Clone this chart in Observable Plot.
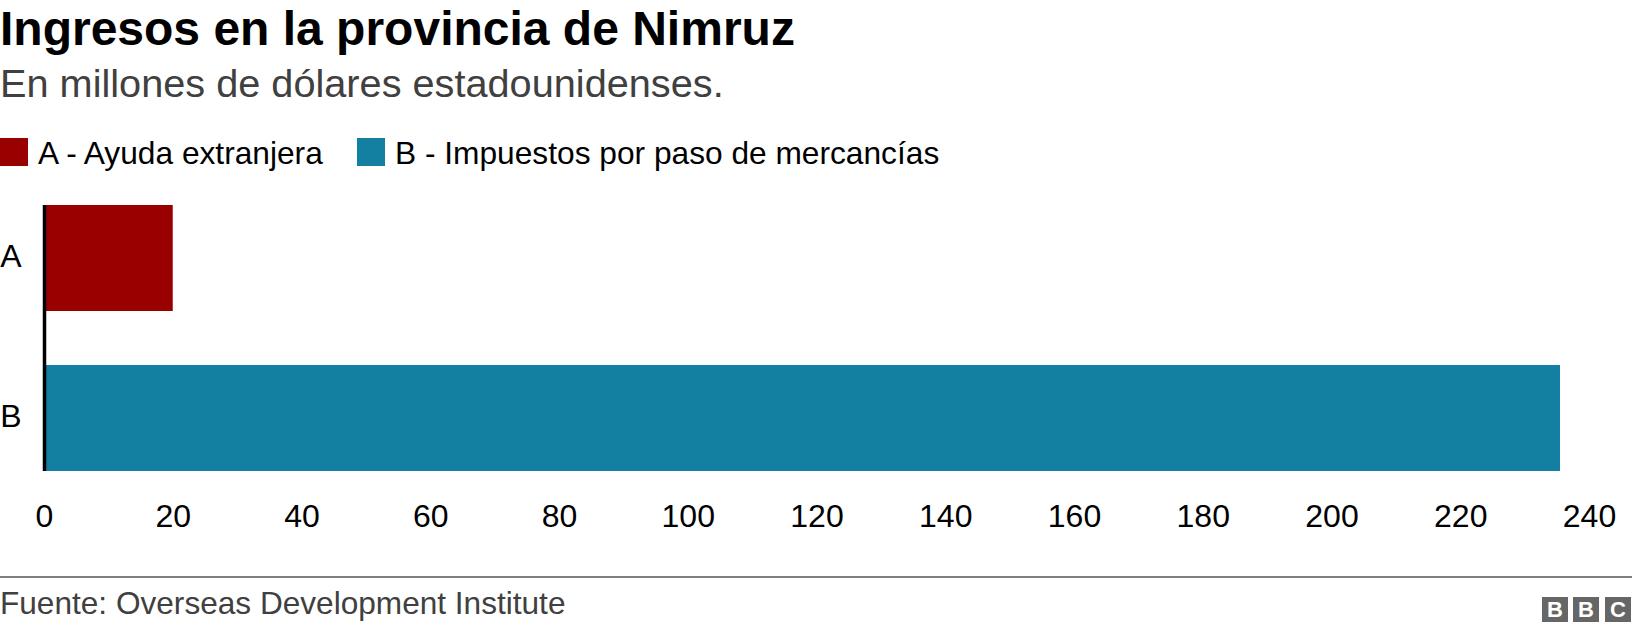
<!DOCTYPE html>
<html>
<head>
<meta charset="utf-8">
<script src="https://cdn.jsdelivr.net/npm/d3@7"></script>
<script src="https://cdn.jsdelivr.net/npm/@observablehq/plot@0.6"></script>
<style>
  html, body { margin: 0; padding: 0; background: #fff; }
  body { width: 1632px; height: 632px; position: relative; overflow: hidden;
         font-family: "Liberation Sans", Arial, Helvetica, sans-serif; }
  .abs { position: absolute; line-height: 1; white-space: nowrap; }
  #title { left: 0; top: 5px; font-size: 48px; font-weight: bold; color: #000; }
  #subtitle { left: 0; top: 64px; font-size: 39.7px; color: #404040; }
  #legend { left: 0; top: 138px; font-size: 31.7px; color: #000; }
  .item { position: absolute; top: 0; }
  .sw { position: absolute; top: 0; width: 28px; height: 28px; }
  .lab { position: absolute; top: 0; left: 38px; white-space: nowrap; }
  #chart { position: absolute; left: 0; top: 180px; }
  #sep { position: absolute; left: 0; top: 576px; width: 1632px; height: 2px; background: #7f7f7f; }
  #source { left: 0; top: 588px; font-size: 31.6px; color: #404040; }
  #bbc { position: absolute; left: 1542px; top: 597px; height: 25px; }
  .bx { position: absolute; top: 0; width: 26px; height: 25px; background: #666;
        color: #fff; font-weight: bold; font-size: 22px; line-height: 25px; text-align: center; }
</style>
</head>
<body>
<div id="title" class="abs">Ingresos en la provincia de Nimruz</div>
<div id="subtitle" class="abs">En millones de dólares estadounidenses.</div>
<div id="legend" class="abs"></div>
<div id="chart"></div>
<div id="sep"></div>
<div id="source" class="abs">Fuente: Overseas Development Institute</div>
<div id="bbc"><div class="bx" style="left:0">B</div><div class="bx" style="left:31px">B</div><div class="bx" style="left:63px">C</div></div>
<script>
const categories = ["A", "B"];
const values = [20, 235.5];
const seriesLabels = ["A - Ayuda extranjera", "B - Impuestos por paso de mercancías"];
const colors = ["#990000", "#1380A1"];
const xTicks = [0, 20, 40, 60, 80, 100, 120, 140, 160, 180, 200, 220, 240];

const data = categories.map((c, i) => ({cat: c, value: values[i]}));

// legend
const legend = document.getElementById("legend");
const legendOffsets = [0, 357];
seriesLabels.forEach((s, i) => {
  const it = document.createElement("div");
  it.className = "item";
  it.style.left = legendOffsets[i] + "px";
  const sw = document.createElement("div");
  sw.className = "sw";
  sw.style.background = colors[i];
  const lb = document.createElement("div");
  lb.className = "lab";
  lb.textContent = s;
  it.appendChild(sw); it.appendChild(lb);
  legend.appendChild(it);
});

const chart = Plot.plot({
  width: 1632,
  height: 370,
  marginTop: 25,
  marginBottom: 79,
  marginLeft: 44,
  marginRight: 43,
  style: {fontFamily: "'Liberation Sans', Arial, sans-serif", fontSize: "32px", color: "#000", background: "transparent"},
  x: {domain: [0, 240], ticks: xTicks, tickSize: 0, tickPadding: 33, label: null, tickFormat: d => String(d)},
  y: {domain: categories, paddingInner: 0.3375, paddingOuter: 0, label: null, axis: null},
  color: {domain: categories, range: colors},
  marks: [
    Plot.axisY({tickSize: 0, tickPadding: 23, dy: -2, label: null}),
    Plot.barX(data, {x: "value", y: "cat", fill: "cat"}),
    Plot.ruleX([0], {stroke: "#000", strokeWidth: 3.5})
  ]
});
document.getElementById("chart").appendChild(chart);
</script>
</body>
</html>
